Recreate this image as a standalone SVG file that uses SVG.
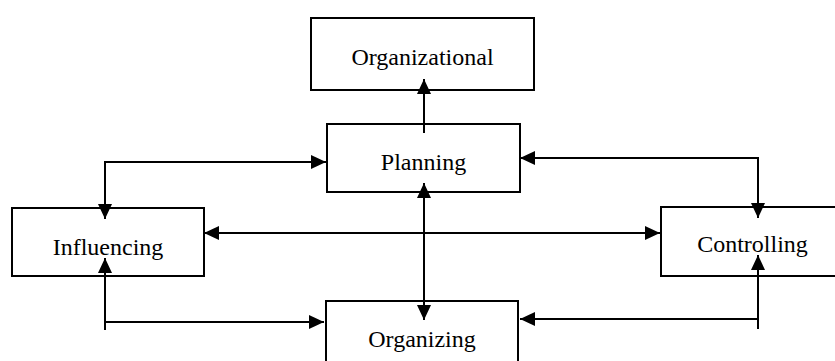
<svg xmlns="http://www.w3.org/2000/svg" width="835" height="361" viewBox="0 0 835 361">
<style>
.box{fill:#fff;stroke:#000;stroke-width:2}
.lbl{font-family:"Liberation Serif","Times New Roman",serif;font-size:24px;fill:#000;text-anchor:middle}
.con{fill:none;stroke:#000;stroke-width:2}
</style>
<defs>
<marker id="ah" markerUnits="userSpaceOnUse" markerWidth="15" markerHeight="14" refX="15" refY="7" orient="auto-start-reverse" viewBox="0 0 15 14">
<path d="M0,0 L15,7 L0,14 z" fill="#000"/>
</marker>
</defs>
<rect width="835" height="361" fill="#fff"/>
<g id="organizational"><rect class="box" x="311" y="18" width="223" height="72"/><text class="lbl" x="422.5" y="65">Organizational</text></g>
<g id="planning"><rect class="box" x="327" y="124" width="193" height="68"/><text class="lbl" x="423.5" y="170">Planning</text></g>
<g id="influencing"><rect class="box" x="12" y="208" width="192" height="68"/><text class="lbl" x="108" y="255">Influencing</text></g>
<g id="controlling"><rect class="box" x="661" y="207" width="185" height="69"/><text class="lbl" x="752.5" y="252">Controlling</text></g>
<g id="organizing"><rect class="box" x="326" y="301" width="192" height="72"/><text class="lbl" x="422" y="347">Organizing</text></g>
<g id="connectors">
<path class="con" d="M424,133 V79" marker-end="url(#ah)"/>
<path class="con" d="M105,219 V162 H326" marker-start="url(#ah)" marker-end="url(#ah)"/>
<path class="con" d="M520,158 H758 V218" marker-start="url(#ah)" marker-end="url(#ah)"/>
<path class="con" d="M204,233 H660" marker-start="url(#ah)" marker-end="url(#ah)"/>
<path class="con" d="M424,183 V320" marker-start="url(#ah)" marker-end="url(#ah)"/>
<path class="con" d="M105,330 V258" marker-end="url(#ah)"/>
<path class="con" d="M105,322 H324" marker-end="url(#ah)"/>
<path class="con" d="M758,329 V255" marker-end="url(#ah)"/>
<path class="con" d="M758,319 H520" marker-end="url(#ah)"/>
</g>
</svg>
